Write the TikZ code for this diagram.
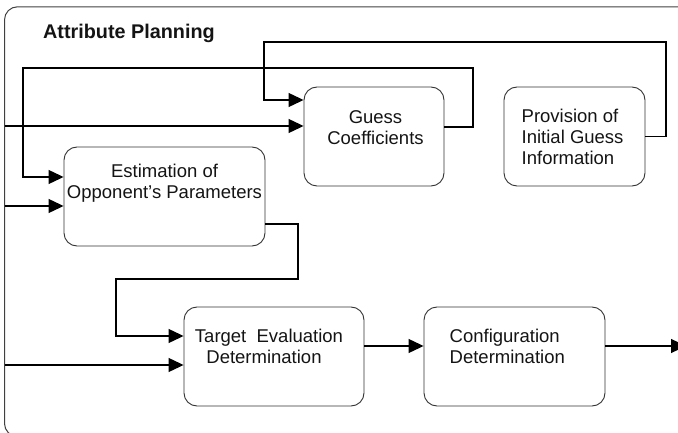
\documentclass[tikz,border=0pt]{standalone}
\usepackage{fontspec}
\setmainfont{Liberation Sans}
\usetikzlibrary{arrows.meta}

\tikzset{
  block/.style={draw=black!80, line width=0.9pt, rounded corners=13pt,
                minimum height=99pt, inner sep=0pt},
  label/.style={text=black!92, font=\fontsize{18.5}{21}\selectfont, inner sep=0pt},
  arr/.style={draw=black, line width=1.2pt,
              -{Triangle[length=15pt,width=14pt]}},
  frame/.style={draw=black!75, line width=1pt, rounded corners=13pt}
}

\begin{document}
\begin{tikzpicture}[x=1pt,y=-1pt]
  \useasboundingbox (0,0) rectangle (678,433);
  \clip (0,0) rectangle (678,433);

  % enclosing frame and its title
  \draw[frame] (4.5,6.8) rectangle (720,436.5);
  \node[anchor=west, inner sep=0pt, text=black!92,
        font=\fontsize{19.8}{22}\bfseries] (title) at (43,33) {Attribute Planning};

  % process blocks
  \node[block, minimum width=140pt] (guess)  at (374,136.5) {};
  \node[block, minimum width=141pt] (prov)   at (574.5,136.5) {};
  \node[block, minimum width=201pt] (est)    at (164.5,196.5) {};
  \node[block, minimum width=180pt] (target) at (274,356.5) {};
  \node[block, minimum width=181pt] (config) at (514.5,356.5) {};

  % block texts
  \node[label, align=center] (guessT) at (375.5,127.5) {Guess\\Coefficients};
  \node[label, align=left, anchor=west] (provT) at (521.5,137) {Provision of\\Initial Guess\\Information};
  \node[label, align=center, text depth=0pt] (estT) at (164.5,181) {Estimation of\\Opponent’s Parameters};
  \node[label, align=center] (targetT) at (269,346) {Target\ \ Evaluation\\Determination\hspace*{10pt}};
  \node[label, align=left, anchor=west] (configT) at (449.5,346.5) {Configuration\\Determination};

  % inputs entering from the frame's left side
  \coordinate (inA) at (4.5,126);
  \coordinate (inB) at (4.5,206);
  \coordinate (inC) at (4.5,365);
  \coordinate (outR) at (686,346);

  \draw[arr] (inA) -- (inA -| guess.west);
  \draw[arr] (inB) -- (inB -| est.west);
  \draw[arr] (inC) -- (inC -| target.west);

  % feedback: initial guess information to guess coefficients
  \draw[arr] (prov.east) -- (666,136.5) -- (666,42) -- (264,42) -- (264,100)
             -- (guess.west |- 0,100);

  % guess coefficients to estimation of opponent's parameters
  \draw[arr] ([yshift=9.5pt]guess.east) -- (473,127) -- (473,68) -- (23,68)
             -- (23,177) -- (est.west |- 0,177);

  % estimation to target evaluation
  \draw[arr] ([yshift=-27.5pt]est.east) -- (298,224) -- (298,279) -- (116,279)
             -- (116,336) -- (target.west |- 0,336);

  % target evaluation to configuration, then out
  \draw[arr] ([yshift=10.5pt]target.east) -- (config.west |- 0,346);
  \draw[arr] ([yshift=10.5pt]config.east) -- (outR);
\end{tikzpicture}
\end{document}
